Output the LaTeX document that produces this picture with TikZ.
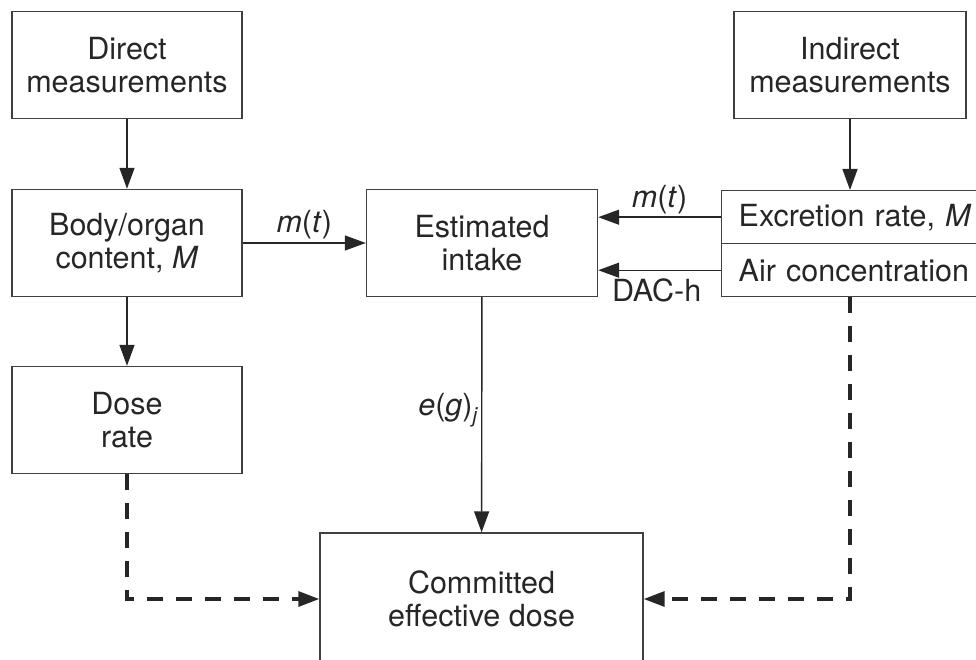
\documentclass[tikz,border=0pt]{standalone}
\usepackage{fontspec}
\setmainfont{TeX Gyre Heros}
\usetikzlibrary{arrows.meta}

\begin{document}
\begin{tikzpicture}[x=1pt, y=-1pt,
  box/.style={draw=black!75, line width=1.4pt, minimum width=230pt, minimum height=107pt,
    align=center, inner sep=0pt, text=black!85, font=\fontsize{30.5}{32.5}\selectfont},
  half/.style={draw=black!75, line width=1.4pt, minimum width=269pt, minimum height=53pt,
    anchor=north west, text width=235pt, align=left, inner xsep=17pt, inner ysep=0pt,
    text=black!85, font=\fontsize{30.5}{32.5}\selectfont},
  arr/.style={draw=black!85, line width=1.4pt, -{Triangle[length=21pt, width=15pt]}},
  dasharr/.style={arr, line width=3.2pt, dash pattern=on 16pt off 13pt},
  lbl/.style={inner sep=3pt, text=black!85, font=\fontsize{30.5}{32.5}\selectfont}]
\clip (0,0) rectangle (976,660);
% left column
\foreach \y/\name/\txt in {65/direct/{Direct\\measurements},
                           243/body/{Body/organ\\content, \textit{M}},
                           420/doserate/{Dose\\rate}} {
  \node[box] (\name) at (127,\y) {\txt};
}
\node[box, minimum width=231pt] (intake) at (482,243) {Estimated\\intake};
\node[box, minimum width=232pt] (indirect) at (850,65) {Indirect\\measurements};
\node[half] (excr) at (721,190) {Excretion rate, \textit{M}};
\node[half] (air) at (721,243) {Air concentration};
\node[box, minimum width=323pt, minimum height=132pt] (committed) at (481.5,599) {Committed\\effective dose};
% solid connectors
\draw[arr] (direct) -- (body);
\draw[arr] (body) -- (doserate);
\draw[arr] (body) -- node[lbl, above] {\textit{m}(\textit{t})} (intake);
\draw[arr] (intake) -- node[lbl, left, pos=0.48] {\textit{e}(\textit{g})\raisebox{-7pt}{\fontsize{21}{21}\selectfont\textit{j}}} (committed);
\draw[arr] (indirect) -- (indirect.south |- excr.north);
\draw[arr] (excr.west) -- node[lbl, above] {\textit{m}(\textit{t})} (excr.west -| intake.east);
\draw[arr] (air.west) -- node[lbl, below, inner ysep=8pt, xshift=-3pt] {DAC-h} (air.west -| intake.east);
% dashed connectors
\draw[dasharr] (doserate.south) |- (committed.west);
\draw[dasharr] (indirect.south |- air.south) |- (committed.east);
\end{tikzpicture}
\end{document}
